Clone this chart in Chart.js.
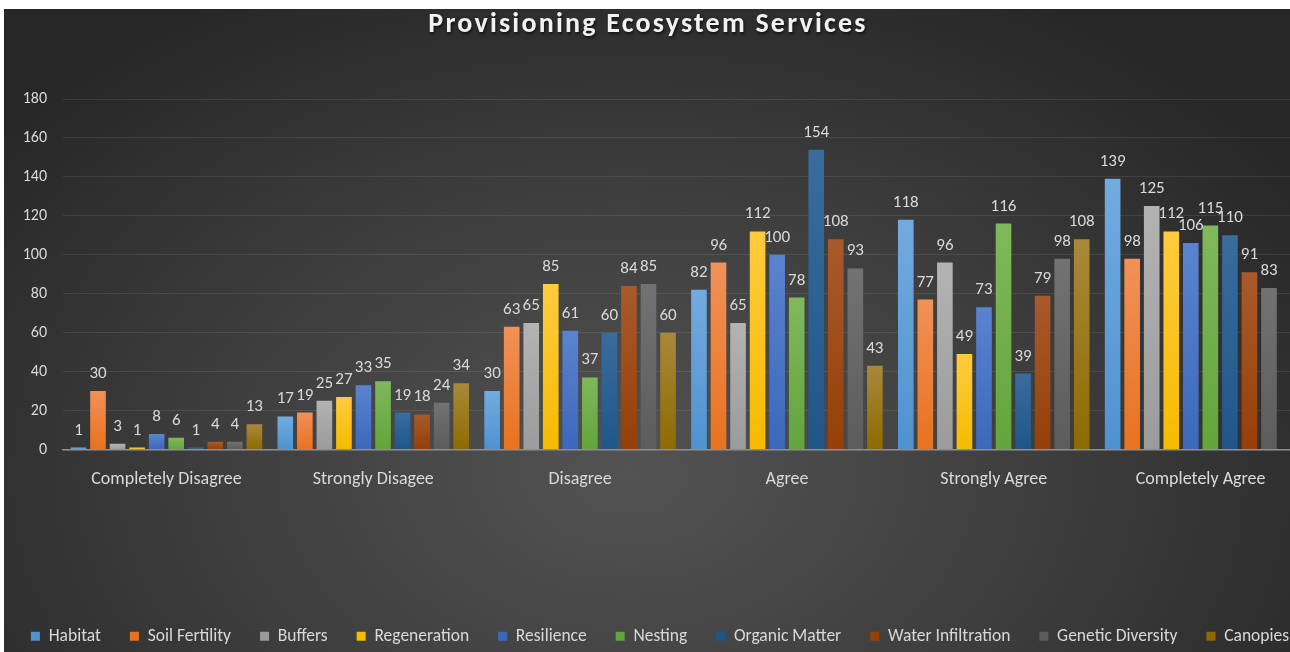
<!DOCTYPE html>
<html lang="en">
<head>
<meta charset="UTF-8">
<title>Provisioning Ecosystem Services</title>
<script src="https://cdn.jsdelivr.net/npm/chart.js"></script>
<style>
  html, body { margin: 0; padding: 0; background: #fff; overflow: hidden; }
  .chart-box {
    position: absolute;
    left: 4px;
    top: 9px;
    width: 1300px;
    height: 646px;
    background: radial-gradient(ellipse 62% 85% at 48% 72%, #535353 0%, #3c3c3c 55%, #272727 100%);
  }
</style>
</head>
<body>

<div class="chart-box">
  <canvas id="servicesChart"></canvas>
</div>

<script>
  const categories = ['Completely Disagree', 'Strongly Disagee', 'Disagree', 'Agree', 'Strongly Agree', 'Completely Agree'];

  const habitat           = [1, 17, 30, 82, 118, 139];
  const soilFertility     = [30, 19, 63, 96, 77, 98];
  const buffers           = [3, 25, 65, 65, 96, 125];
  const regeneration      = [1, 27, 85, 112, 49, 112];
  const resilience        = [8, 33, 61, 100, 73, 106];
  const nesting           = [6, 35, 37, 78, 116, 115];
  const organicMatter     = [1, 19, 60, 154, 39, 110];
  const waterInfiltration = [4, 18, 84, 108, 79, 91];
  const geneticDiversity  = [4, 24, 85, 93, 98, 83];
  const canopies          = [13, 34, 60, 43, 108, null];

  const yTicks = [0, 20, 40, 60, 80, 100, 120, 140, 160, 180];

  const TITLE = 'Provisioning Ecosystem Services';
  const FONT = 'Carlito, Calibri, "Open Sans", sans-serif';
  const TEXT = '#d9d9d9';

  // base colour at the bottom of each bar, lighter tone at its top
  const series = [
    ['Habitat', habitat, '#4F92D0', '#72ABDF'],
    ['Soil Fertility', soilFertility, '#E8721F', '#F19158'],
    ['Buffers', buffers, '#9B9B9B', '#B3B3B3'],
    ['Regeneration', regeneration, '#F5BB00', '#FFCB3F'],
    ['Resilience', resilience, '#3C68BC', '#5A83CF'],
    ['Nesting', nesting, '#63A43B', '#7FB95B'],
    ['Organic Matter', organicMatter, '#1F5689', '#3A6C9E'],
    ['Water Infiltration', waterInfiltration, '#963F07', '#A85A2C'],
    ['Genetic Diversity', geneticDiversity, '#5C5C5C', '#727272'],
    ['Canopies', canopies, '#8E6A00', '#A8893A']
  ];

  function barFill(base, light) {
    return (c) => {
      const chart = c.chart;
      if (!chart.chartArea || c.type !== 'data' || c.raw == null) return base;
      const y = chart.scales.y;
      const top = y.getPixelForValue(c.raw);
      const bottom = y.getPixelForValue(0);
      if (!(bottom > top)) return base;
      const g = chart.ctx.createLinearGradient(0, top, 0, bottom);
      g.addColorStop(0, light);
      g.addColorStop(1, base);
      return g;
    };
  }

  // value written above every bar
  const valueLabels = {
    id: 'valueLabels',
    afterDatasetsDraw(chart) {
      const ctx = chart.ctx;
      ctx.save();
      ctx.font = '17px ' + FONT;
      ctx.fillStyle = TEXT;
      ctx.textAlign = 'center';
      ctx.textBaseline = 'alphabetic';
      chart.data.datasets.forEach((ds, i) => {
        chart.getDatasetMeta(i).data.forEach((bar, j) => {
          const v = ds.data[j];
          if (v == null) return;
          ctx.fillText(String(v), bar.x, bar.y - 13);
        });
      });
      ctx.restore();
    }
  };

  // spaced-out title with a soft drop shadow
  const spacedTitle = {
    id: 'spacedTitle',
    afterDraw(chart) {
      const ctx = chart.ctx;
      ctx.save();
      ctx.font = 'bold 28px ' + FONT;
      ctx.letterSpacing = '2.2px';
      ctx.fillStyle = '#f2f2f2';
      ctx.textAlign = 'center';
      ctx.textBaseline = 'alphabetic';
      ctx.shadowColor = 'rgba(0,0,0,0.65)';
      ctx.shadowBlur = 3;
      ctx.shadowOffsetX = 1;
      ctx.shadowOffsetY = 2;
      ctx.fillText(TITLE, chart.width / 2 - 6, 23);
      ctx.restore();
    }
  };

  // keep all ten legend entries on one row (the wrap tests reserve extra padding)
  const oneRowLegend = {
    id: 'oneRowLegend',
    beforeUpdate(chart) {
      const legend = chart.legend;
      if (legend && !legend.oneRow) {
        const update = legend.update;
        const draw = legend.draw;
        legend.update = function (w, h, m) { return update.call(this, w + 60, h, m); };
        legend.draw = function () {
          // widen the row on the right, nudge the centred row 6px to the right
          this.left -= 28;
          this.right += 40;
          draw.call(this);
          this.left += 28;
          this.right -= 40;
        };
        legend.oneRow = true;
      }
    }
  };

  new Chart(document.getElementById('servicesChart').getContext('2d'), {
    type: 'bar',
    data: {
      labels: categories,
      datasets: series.map(([label, data, base, light]) => ({
        label: label,
        data: data,
        backgroundColor: barFill(base, light),
        borderWidth: 0,
        categoryPercentage: 0.945,
        barPercentage: 0.8
      }))
    },
    options: {
      responsive: true,
      maintainAspectRatio: false,
      animation: false,
      layout: { padding: { left: 0, right: 0, top: 90, bottom: 0 } },
      plugins: {
        title: { display: false },
        legend: {
          position: 'bottom',
          align: 'center',
          labels: {
            color: TEXT,
            font: { family: FONT, size: 17.5 },
            boxWidth: 9,
            boxHeight: 9,
            padding: 29
          }
        },
        tooltip: { enabled: false }
      },
      scales: {
        x: {
          grid: { display: false },
          border: { color: '#8f8f8f', width: 1.5 },
          ticks: { color: TEXT, font: { family: FONT, size: 18 }, padding: 11 },
          afterFit(scale) { scale.height = 149; }
        },
        y: {
          min: 0,
          max: 180,
          afterBuildTicks(scale) { scale.ticks = yTicks.map(v => ({ value: v })); },
          afterFit(scale) { scale.width = 59; },
          grid: { color: 'rgba(255,255,255,0.09)', drawTicks: false },
          border: { display: false },
          ticks: { color: TEXT, font: { family: FONT, size: 16 }, padding: 16 }
        }
      }
    },
    plugins: [oneRowLegend, valueLabels, spacedTitle]
  });
</script>

</body>
</html>
